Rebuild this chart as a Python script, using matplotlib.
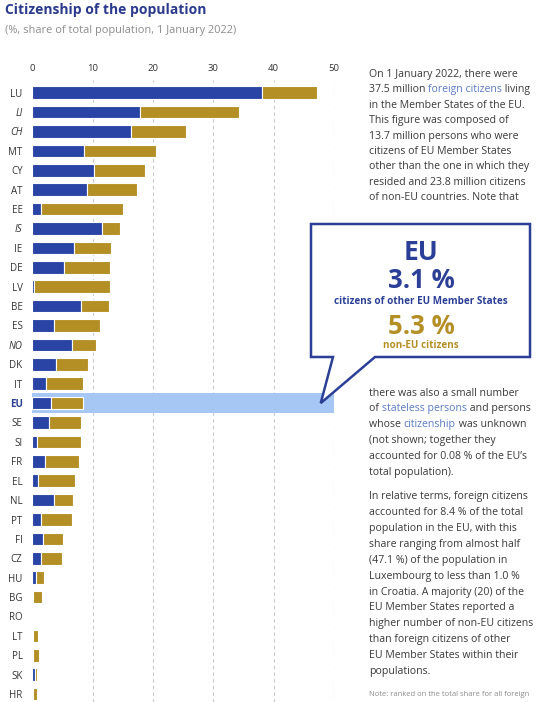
import matplotlib
matplotlib.use("Agg")
import matplotlib.pyplot as plt
from matplotlib.patches import Polygon
from matplotlib.transforms import Affine2D
import numpy as np

# ---------------- data ----------------
countries = ["LU", "LI", "CH", "MT", "CY", "AT", "EE", "IS", "IE", "DE", "LV", "BE",
             "ES", "NO", "DK", "IT", "EU", "SE", "SI", "FR", "EL", "NL", "PT", "FI",
             "CZ", "HU", "BG", "RO", "LT", "PL", "SK", "HR"]
eu_other = [38.1, 17.9, 16.3, 8.5, 10.3, 9.1, 1.5, 11.5, 6.9, 5.3, 0.3, 8.1,
            3.6, 6.5, 3.9, 2.2, 3.1, 2.7, 0.8, 2.1, 1.0, 3.6, 1.5, 1.7,
            1.5, 0.6, 0.1, 0.05, 0.05, 0.05, 0.4, 0.1]
non_eu = [9.0, 16.4, 9.2, 12.0, 8.4, 8.3, 13.6, 3.0, 6.2, 7.6, 12.6, 4.6,
          7.6, 4.1, 5.4, 6.2, 5.3, 5.4, 7.3, 5.7, 6.0, 3.2, 5.1, 3.4,
          3.4, 1.3, 1.5, 0.1, 0.95, 1.0, 0.45, 0.6]
efta = ["LI", "CH", "IS", "NO"]
xticks = [0, 10, 20, 30, 40, 50]
title = "Citizenship of the population"
subtitle = "(%, share of total population, 1 January 2022)"
eu_share_other = "3.1 %"
eu_share_non = "5.3 %"

# ---------------- style ----------------
W, H = 538, 702
BLUE = "#2a44a6"
GOLD = "#b38f26"
DARKBLUE = "#2b3a8c"
CALLBLUE = "#2b3f97"
TEXT = "#3a3a3a"
LINK = "#5b7bc4"
GREY = "#8c8c8c"
HIGHLIGHT = "#a6c6f4"
FONT = ["Open Sans", "DejaVu Sans"]
plt.rcParams["font.family"] = FONT

fig = plt.figure(figsize=(W / 100, H / 100), dpi=100)
fig.patch.set_facecolor("white")

# pixel-coordinate transform (origin top-left)
pxT = Affine2D().scale(1 / W, -1 / H).translate(0, 1) + fig.transFigure

# ---------------- chart axes ----------------
x0_px, x50_px = 32.3, 334.0
row0_px, row_sp = 92.7, 19.4
ax_top_px = 80.0
ax = fig.add_axes([x0_px / W, 0, (x50_px - x0_px) / W, 1 - ax_top_px / H])
n = len(countries)
y = np.arange(n)
ax.set_xlim(0, 50)
ax.set_ylim((H - row0_px) / row_sp, (ax_top_px - row0_px) / row_sp)

eu_idx = countries.index("EU")
ax.axhspan(eu_idx - 0.5, eu_idx + 0.5, xmin=0, xmax=1, color=HIGHLIGHT, zorder=0.5, lw=0)

ax.barh(y, eu_other, height=0.64, color=BLUE, edgecolor="white", linewidth=0.8, zorder=2)
ax.barh(y, non_eu, left=eu_other, height=0.64, color=GOLD, edgecolor="white",
        linewidth=0.8, zorder=2)

for xt in xticks[1:]:
    ax.axvline(xt, color="#c8c8c8", lw=0.8, ls=(0, (3, 3)), zorder=0.3)

for s in ax.spines.values():
    s.set_visible(False)
ax.xaxis.tick_top()
ax.set_xticks(xticks)
ax.set_xticklabels([str(v) for v in xticks], fontsize=6.8, color="#333333")
ax.tick_params(axis="x", length=0, pad=5)
ax.set_yticks(y)
ax.set_yticklabels(countries, fontsize=7, color="#333333")
ax.tick_params(axis="y", length=0, pad=7)
for lab in ax.get_yticklabels():
    t = lab.get_text()
    if t in efta:
        lab.set_style("italic")
    if t == "EU":
        lab.set_fontweight("bold")
        lab.set_color(CALLBLUE)

# ---------------- titles ----------------
fig.text(5, 10, title, transform=pxT, fontsize=10, fontweight="bold",
         color=DARKBLUE, va="center", ha="left")
fig.text(5, 30, subtitle, transform=pxT, fontsize=7.9, color=GREY,
         va="center", ha="left")

# ---------------- callout ----------------
tip_disp = ax.transData.transform((47.8, eu_idx))
tip_px = pxT.inverted().transform(tip_disp)
box = [(311, 224), (530, 224), (530, 357), (375, 357), tuple(tip_px), (333, 357), (311, 357)]
fig.patches.append(Polygon(box, closed=True, transform=pxT, facecolor="white",
                           edgecolor=CALLBLUE, lw=1.8, zorder=5, joinstyle="miter"))
cx = 421
fig.text(cx, 252, "EU", transform=pxT, fontsize=19, fontweight="bold", color=CALLBLUE,
         ha="center", va="center", zorder=6)
fig.text(cx, 281, eu_share_other, transform=pxT, fontsize=18.5, fontweight="bold",
         color=CALLBLUE, ha="center", va="center", zorder=6)
fig.text(cx, 302, "citizens of other EU Member States", transform=pxT, fontsize=7.1,
         fontweight="bold", color=CALLBLUE, ha="center", va="center", zorder=6)
fig.text(cx, 326, eu_share_non, transform=pxT, fontsize=18.5, fontweight="bold",
         color=GOLD, ha="center", va="center", zorder=6)
fig.text(cx, 346, "non-EU citizens", transform=pxT, fontsize=7.1, fontweight="bold",
         color=GOLD, ha="center", va="center", zorder=6)

# ---------------- body text ----------------
renderer = fig.canvas.get_renderer()
BODY_FS = 7.6


def draw_line(xp, yp, segs, fs=BODY_FS):
    x = xp
    for txt, col in segs:
        t = fig.text(x, yp, txt, transform=pxT, fontsize=fs, color=col,
                     ha="left", va="center")
        bb = t.get_window_extent(renderer=renderer)
        x = pxT.inverted().transform((bb.x1, bb.y0))[0]


para1 = [
    [("On 1 January 2022, there were", TEXT)],
    [("37.5 million ", TEXT), ("foreign citizens", LINK), (" living", TEXT)],
    [("in the Member States of the EU.", TEXT)],
    [("This figure was composed of", TEXT)],
    [("13.7 million persons who were", TEXT)],
    [("citizens of EU Member States", TEXT)],
    [("other than the one in which they", TEXT)],
    [("resided and 23.8 million citizens", TEXT)],
    [("of non-EU countries. Note that", TEXT)],
]
para2 = [
    [("there was also a small number", TEXT)],
    [("of ", TEXT), ("stateless persons", LINK), (" and persons", TEXT)],
    [("whose ", TEXT), ("citizenship", LINK), (" was unknown", TEXT)],
    [("(not shown; together they", TEXT)],
    [("accounted for 0.08 % of the EU\u2019s", TEXT)],
    [("total population).", TEXT)],
]
para3 = [
    [("In relative terms, foreign citizens", TEXT)],
    [("accounted for 8.4 % of the total", TEXT)],
    [("population in the EU, with this", TEXT)],
    [("share ranging from almost half", TEXT)],
    [("(47.1 %) of the population in", TEXT)],
    [("Luxembourg to less than 1.0 %", TEXT)],
    [("in Croatia. A majority (20) of the", TEXT)],
    [("EU Member States reported a", TEXT)],
    [("higher number of non-EU citizens", TEXT)],
    [("than foreign citizens of other", TEXT)],
    [("EU Member States within their", TEXT)],
    [("populations.", TEXT)],
]
LX = 369
for i, segs in enumerate(para1):
    draw_line(LX, 74 + i * 15.5, segs)
for i, segs in enumerate(para2):
    draw_line(LX, 393 + i * 15.9, segs)
for i, segs in enumerate(para3):
    draw_line(LX, 497 + i * 15.85, segs)
fig.text(LX, 695, "Note: ranked on the total share for all foreign", transform=pxT,
         fontsize=5.5, color=GREY, ha="left", va="center")

fig.savefig("out.png", dpi=100)
